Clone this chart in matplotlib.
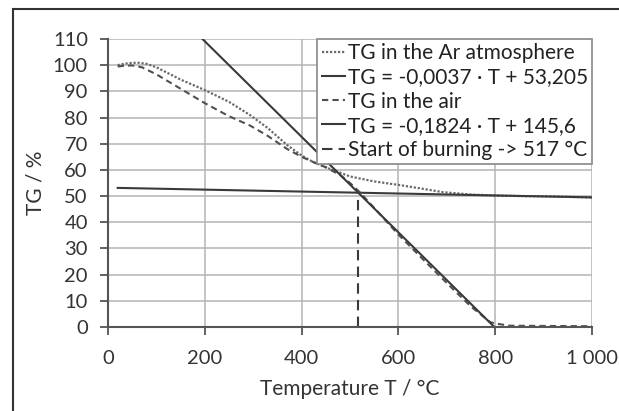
import matplotlib
matplotlib.use('Agg')
import matplotlib.pyplot as plt
from matplotlib.lines import Line2D

# TG in the Ar atmosphere (dotted)
tAr = [20, 35, 50, 65, 80, 100, 150, 200, 250, 293, 330, 370, 400, 424, 450, 500, 550, 603, 650, 692, 750, 800, 850, 900, 1000]
tgAr = [100, 100.6, 100.9, 100.9, 100.5, 99.2, 94.5, 90.5, 86.0, 81.0, 76.0, 69.5, 65.5, 63.0, 61.0, 57.5, 55.6, 54.2, 52.8, 51.5, 50.6, 50.2, 50.0, 49.9, 49.5]

# TG in the air (dashed)
tAir = [20, 35, 50, 70, 100, 150, 200, 250, 293, 330, 370, 400, 424, 450, 480, 500, 520, 550, 600, 650, 700, 750, 790, 805, 830, 900, 1000]
tgAir = [99.5, 99.8, 99.9, 99.2, 96.5, 91.0, 85.5, 80.5, 77.0, 73.0, 68.0, 65.0, 63.0, 61.0, 58.0, 55.0, 51.5, 45.5, 35.3, 26.0, 16.8, 7.8, 1.8, 1.2, 0.5, 0.4, 0.3]

# linear fits
fitFlat = (-0.0037, 53.205)
fitSteep = (-0.1824, 145.6)
tFlat = [20, 1000]
tSteep = [195.2, 798.2]
burnStart = 517

labels = ['TG in the Ar atmosphere',
          'TG = -0,0037 · T + 53,205',
          'TG in the air',
          'TG = -0,1824 · T + 145,6',
          'Start of burning -> 517 °C']

xticks = [0, 200, 400, 600, 800, 1000]
xtickLabels = ['0', '200', '400', '600', '800', '1 000']
yticks = list(range(0, 111, 10))

plt.rcParams['font.family'] = ['Lato', 'DejaVu Sans']

lineColor = '#3a3a3a'
gridColor = '#b4b4b4'
textColor = '#333333'

fig = plt.figure(figsize=(6.19, 4.11), dpi=100)
ax = fig.add_axes([108 / 619, 1 - 327 / 411, 484 / 619, 288 / 411])

ax.plot(tAr, tgAr, linestyle=(0, (1, 0.8)), color='#6a6a6a', linewidth=1.6, label=labels[0])
ax.plot(tFlat, [fitFlat[0] * t + fitFlat[1] for t in tFlat], color=lineColor, linewidth=1.5, label=labels[1])
ax.plot(tAir, tgAir, linestyle=(0, (3, 2)), color='#505050', linewidth=1.5, label=labels[2])
ax.plot(tSteep, [fitSteep[0] * t + fitSteep[1] for t in tSteep], color=lineColor, linewidth=1.5, label=labels[3])
burnTop = fitFlat[0] * burnStart + fitFlat[1]
ax.plot([burnStart, burnStart], [0, burnTop], linestyle=(0, (5, 3)), color=lineColor, linewidth=1.5, label=labels[4])

ax.set_xlim(0, 1000)
ax.set_ylim(0, 110)
ax.set_xticks(xticks)
ax.set_xticklabels(xtickLabels)
ax.set_yticks(yticks)
ax.grid(True, color=gridColor, linewidth=1.1)
ax.set_axisbelow(True)

for side in ['top', 'right']:
    ax.spines[side].set_visible(False)
for side in ['left', 'bottom']:
    ax.spines[side].set_color('#555555')
    ax.spines[side].set_linewidth(1.5)

ax.tick_params(axis='both', direction='out', length=5.5, width=1.3, color='#555555',
               labelsize=14.5, labelcolor=textColor)
ax.tick_params(axis='x', pad=11)
ax.tick_params(axis='y', pad=9)

ax.set_xlabel('Temperature T / °C', fontsize=15, color=textColor)
ax.set_ylabel('TG / %', fontsize=15, color=textColor)
ax.xaxis.set_label_coords(0.5, -0.18)
ax.yaxis.set_label_coords(-0.13, 0.5)

leg = ax.legend(loc='upper right', bbox_to_anchor=(1.0, 1.0), borderaxespad=0,
                fontsize=15, handlelength=1.1, handletextpad=0.15, labelspacing=0.2,
                borderpad=0.2, fancybox=False, framealpha=1, edgecolor='#888888',
                labelcolor='#222222')
leg.get_frame().set_linewidth(1.2)

# outer chart border (top and left visible in the reference)
fig.add_artist(Line2D([12.7 / 619, 12.7 / 619], [0, 1 - 9.5 / 411], color='#333333', linewidth=1.5))
fig.add_artist(Line2D([12.7 / 619, 1], [1 - 9.5 / 411, 1 - 9.5 / 411], color='#333333', linewidth=1.5))

fig.savefig('out.png', dpi=100)
